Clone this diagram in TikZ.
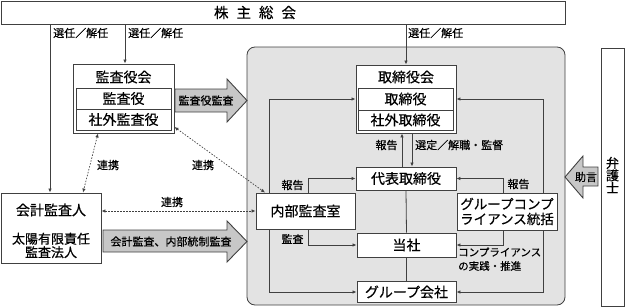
\documentclass[tikz,border=0pt]{standalone}
\usepackage{fontspec}
\setmainfont{Noto Sans CJK JP}[FakeBold=0.5]
\usetikzlibrary{arrows.meta}
\begin{document}
\begin{tikzpicture}[x=1pt,y=-1pt,
  box/.style={draw=black!75, line width=0.9pt, fill=white, inner sep=0pt},
  ln/.style={draw=black!75, line width=0.8pt},
  arr/.style={ln, -{Latex[length=4pt,width=3.5pt]}},
  dotc/.style={draw=black!75, line width=0.7pt, dash pattern=on 1.5pt off 1.5pt, {Latex[length=4pt,width=3.5pt]}-{Latex[length=4pt,width=3.5pt]}},
  big/.style={font=\fontsize{14}{16}\selectfont},
  mid/.style={font=\fontsize{13}{14}\selectfont},
  lab/.style={font=\fontsize{11}{12}\selectfont, inner sep=0pt},
  fat/.style={draw=black!75, line width=0.9pt, fill=black!22},
]
\useasboundingbox (0,0) rectangle (625,308);

% shaded region
\draw[black!75, line width=0.8pt, fill=black!11, rounded corners=8pt] (247,47) rectangle (565,305);

% top box
\node[box, minimum width=564pt, minimum height=23pt] (kabu) at (283,12.5) {};
\node[font=\fontsize{14.5}{16}\selectfont, inner sep=0pt] (kabut) at (255,12.5) {株\hspace{8pt}主\hspace{8pt}総\hspace{8pt}会};

% kansayakukai
\node[box, minimum width=101pt, minimum height=69pt] (kansa) at (123.5,98.5) {};
\node[big, inner sep=0pt] (kansat) at (123.5,77) {監査役会};
\node[box, big, minimum width=95pt, minimum height=21pt] (kansa1) at (123.5,98.5) {監査役};
\node[box, big, minimum width=95pt, minimum height=21pt] (kansa2) at (123.5,119.5) {社外監査役};

% torishimariyakukai
\node[box, minimum width=100pt, minimum height=68pt] (tori) at (406,99) {};
\node[big, inner sep=0pt] (torit) at (406,77) {取締役会};
\node[box, big, minimum width=95pt, minimum height=22pt] (tori1) at (405.5,99) {取締役};
\node[box, big, minimum width=95pt, minimum height=20pt] (tori2) at (405.5,120) {社外取締役};

% others
\node[box, big, minimum width=100pt, minimum height=23pt] (daihyo) at (406,178.5) {代表取締役};
\node[box, big, minimum width=99pt, minimum height=24pt] (tosha) at (406.5,245) {当社};
\node[box, big, minimum width=99pt, minimum height=21pt] (group) at (406.5,292) {グループ会社};
\node[box, big, minimum width=99pt, minimum height=36pt] (naibu) at (305.5,211) {内部監査室};
\node[box, align=center, font=\fontsize{13.5}{15}\selectfont, minimum width=100pt, minimum height=37pt] (gcomp) at (507,211.5) {グループコンプ\\ライアンス統括};
\node[box, minimum width=100pt, minimum height=70pt] (kaikei) at (51,228) {};
\node[big, inner sep=0pt] (kaikeit) at (51,210) {会計監査人};
\node[mid, inner sep=0pt, align=center, font=\fontsize{13}{13.5}\selectfont] (taiyo) at (51,245.5) {太陽有限責任\\監査法人};
\node[box, minimum width=23pt, minimum height=258pt] (bengo) at (612.5,177) {};
\node[inner sep=0pt, align=center, font=\fontsize{13}{12.5}\selectfont] (bengot) at (612.5,175) {弁\\護\\士};

% x positions for connectors
\coordinate (x50) at (50,0);
\coordinate (x125) at (125,0);
\coordinate (nL) at (269,0);
\coordinate (gR) at (543,0);
\coordinate (rp) at (402,0);
\coordinate (sd) at (412,0);
\coordinate (nm) at (308,0);
\coordinate (gm) at (503,0);
\coordinate (d1a) at (98,0);
\coordinate (d1b) at (83,0);
\coordinate (d2a) at (0,127);
\coordinate (d2b) at (265,0);

% election lines
\draw[arr] (kabu.south -| x50) -- (kaikei.north -| x50);
\draw[arr] (kabu.south -| x125) -- (kansa.north -| x125);
\draw[arr] (kabu.south -| tori.north) -- (tori.north);
\node[lab, anchor=west] (s1) at (53,33) {選任／解任};
\node[lab, anchor=west] (s2) at (128,33) {選任／解任};
\node[lab, anchor=west] (s3) at (408,33) {選任／解任};

% internal connectors
\draw[arr] (naibu.north -| nL) |- (tori.west |- tori1);
\draw[arr] (naibu.south -| nL) |- (group.west);
\draw[arr] (gcomp.north -| gR) |- (tori.east |- tori1);
\draw[arr] (gcomp.south -| gR) |- (group.east);
\draw[arr] (daihyo.north -| rp) -- (tori.south -| rp);
\draw[arr] (tori.south -| sd) -- (daihyo.north -| sd);
\draw[ln] (daihyo.south) -- (tosha.north);
\draw[ln] (tosha.south) -- (group.north);
\draw[arr] (naibu.north -| nm) |- (daihyo.west);
\draw[arr] (naibu.south -| nm) |- (tosha.west);
\draw[arr] (gcomp.north -| gm) |- (daihyo.east);
\draw[arr] (gcomp.south -| gm) |- (tosha.east);

\node[lab] (r1) at (386.5,145) {報告};
\node[lab, anchor=west] (r2) at (415,145) {選定／解職・監督};
\node[lab] (r3) at (518.5,184) {報告};
\node[lab] (r4) at (292.5,185) {報告};
\node[lab] (r5) at (292.5,239) {監査};
\node[lab, anchor=west, font=\fontsize{10.5}{12}\selectfont] (r6) at (458,252) {コンプライアンス};
\node[lab, anchor=west, font=\fontsize{10.5}{12}\selectfont] (r7) at (458,266) {の実践・推進};

% dotted cooperation
\draw[dotc] (kansa.south -| d1a) -- (kaikei.north -| d1b);
\draw[dotc] (kansa.east |- d2a) -- (naibu.north -| d2b);
\draw[dotc] (kaikei.east |- naibu.west) -- (naibu.west);
\node[lab] (c1) at (108,165) {連携};
\node[lab] (c2) at (203,165) {連携};
\node[lab] (c3) at (172,202) {連携};

% fat arrows
\draw[fat] (175,89) -- (227,89) -- (227,79) -- (247,100.5) -- (227,122) -- (227,112) -- (175,112) -- cycle;
\node[lab] (f1) at (206,100.5) {監査役監査};
\draw[fat] (103,230) -- (227,230) -- (227,221) -- (247,241.5) -- (227,262) -- (227,252) -- (103,252) -- cycle;
\node[lab] (f2) at (171,241.5) {会計監査、内部統制監査};
\draw[fat] (598,167) -- (583,167) -- (583,156) -- (565,177) -- (583,198) -- (583,186) -- (598,186) -- cycle;
\node[lab] (f3) at (586,177) {助言};
\end{tikzpicture}
\end{document}
